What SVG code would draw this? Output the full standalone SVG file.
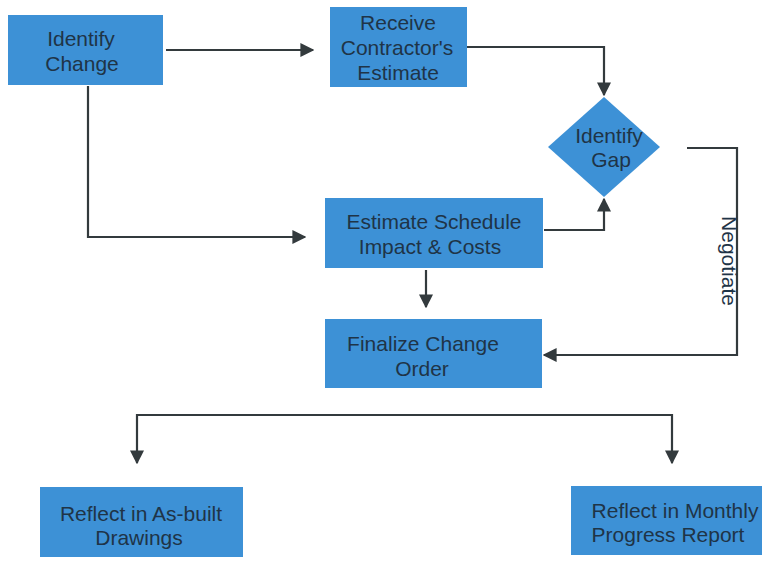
<svg xmlns="http://www.w3.org/2000/svg" width="780" height="561" viewBox="0 0 780 561">
  <defs>
    <marker id="arrow" viewBox="0 0 10 10" refX="9" refY="5" markerWidth="14" markerHeight="14" markerUnits="userSpaceOnUse" orient="auto">
      <path d="M0,0 L10,5 L0,10 Z" fill="#333a3d"/>
    </marker>
    <style>
      .box { fill: #3d91d6; }
      .lbl { font-family: "Liberation Sans", Arial, sans-serif; font-size: 21px; fill: #1f3447; text-anchor: middle; }
      .conn { fill: none; stroke: #333a3d; stroke-width: 2.2; marker-end: url(#arrow); }
      .plain { fill: none; stroke: #333a3d; stroke-width: 2.2; }
    </style>
  </defs>
  <rect width="780" height="561" fill="#ffffff"/>

  <g id="connectors">
    <path class="conn" d="M166,50 H313"/>
    <path class="conn" d="M467,47 H604 V95"/>
    <path class="conn" d="M88,86 V237 H305"/>
    <path class="conn" d="M544,230 H604 V199"/>
    <path class="conn" d="M426,270 V307"/>
    <path class="conn" d="M687,148 H737 V355 H544"/>
    <path class="plain" d="M137,415 H672"/>
    <path class="conn" d="M137,414 V463"/>
    <path class="conn" d="M672,414 V463"/>
    <text class="lbl" transform="translate(722,261) rotate(90)">Negotiate</text>
  </g>

  <g id="identify-change">
    <rect class="box" x="8" y="15" width="155" height="70"/>
    <text class="lbl" x="81" y="46">Identify</text>
    <text class="lbl" x="82" y="71">Change</text>
  </g>

  <g id="receive-estimate">
    <rect class="box" x="330" y="7" width="137" height="80"/>
    <text class="lbl" x="398" y="30">Receive</text>
    <text class="lbl" x="397" y="55">Contractor's</text>
    <text class="lbl" x="398" y="80">Estimate</text>
  </g>

  <g id="identify-gap">
    <path class="box" d="M604,97 L660,147 L604,197 L548,147 Z"/>
    <text class="lbl" x="609" y="143">Identify</text>
    <text class="lbl" x="611" y="167">Gap</text>
  </g>

  <g id="estimate-impact">
    <rect class="box" x="325" y="198" width="218" height="70"/>
    <text class="lbl" x="434" y="229">Estimate Schedule</text>
    <text class="lbl" x="430" y="254">Impact &amp; Costs</text>
  </g>

  <g id="finalize-order">
    <rect class="box" x="325" y="319" width="217" height="69"/>
    <text class="lbl" x="423" y="351">Finalize Change</text>
    <text class="lbl" x="422" y="376">Order</text>
  </g>

  <g id="as-built">
    <rect class="box" x="40" y="487" width="203" height="70"/>
    <text class="lbl" x="141" y="521">Reflect in As-built</text>
    <text class="lbl" x="139" y="545">Drawings</text>
  </g>

  <g id="progress-report">
    <rect class="box" x="571" y="486" width="191" height="69"/>
    <text class="lbl" x="675" y="518">Reflect in Monthly</text>
    <text class="lbl" x="668" y="542">Progress Report</text>
  </g>
</svg>
